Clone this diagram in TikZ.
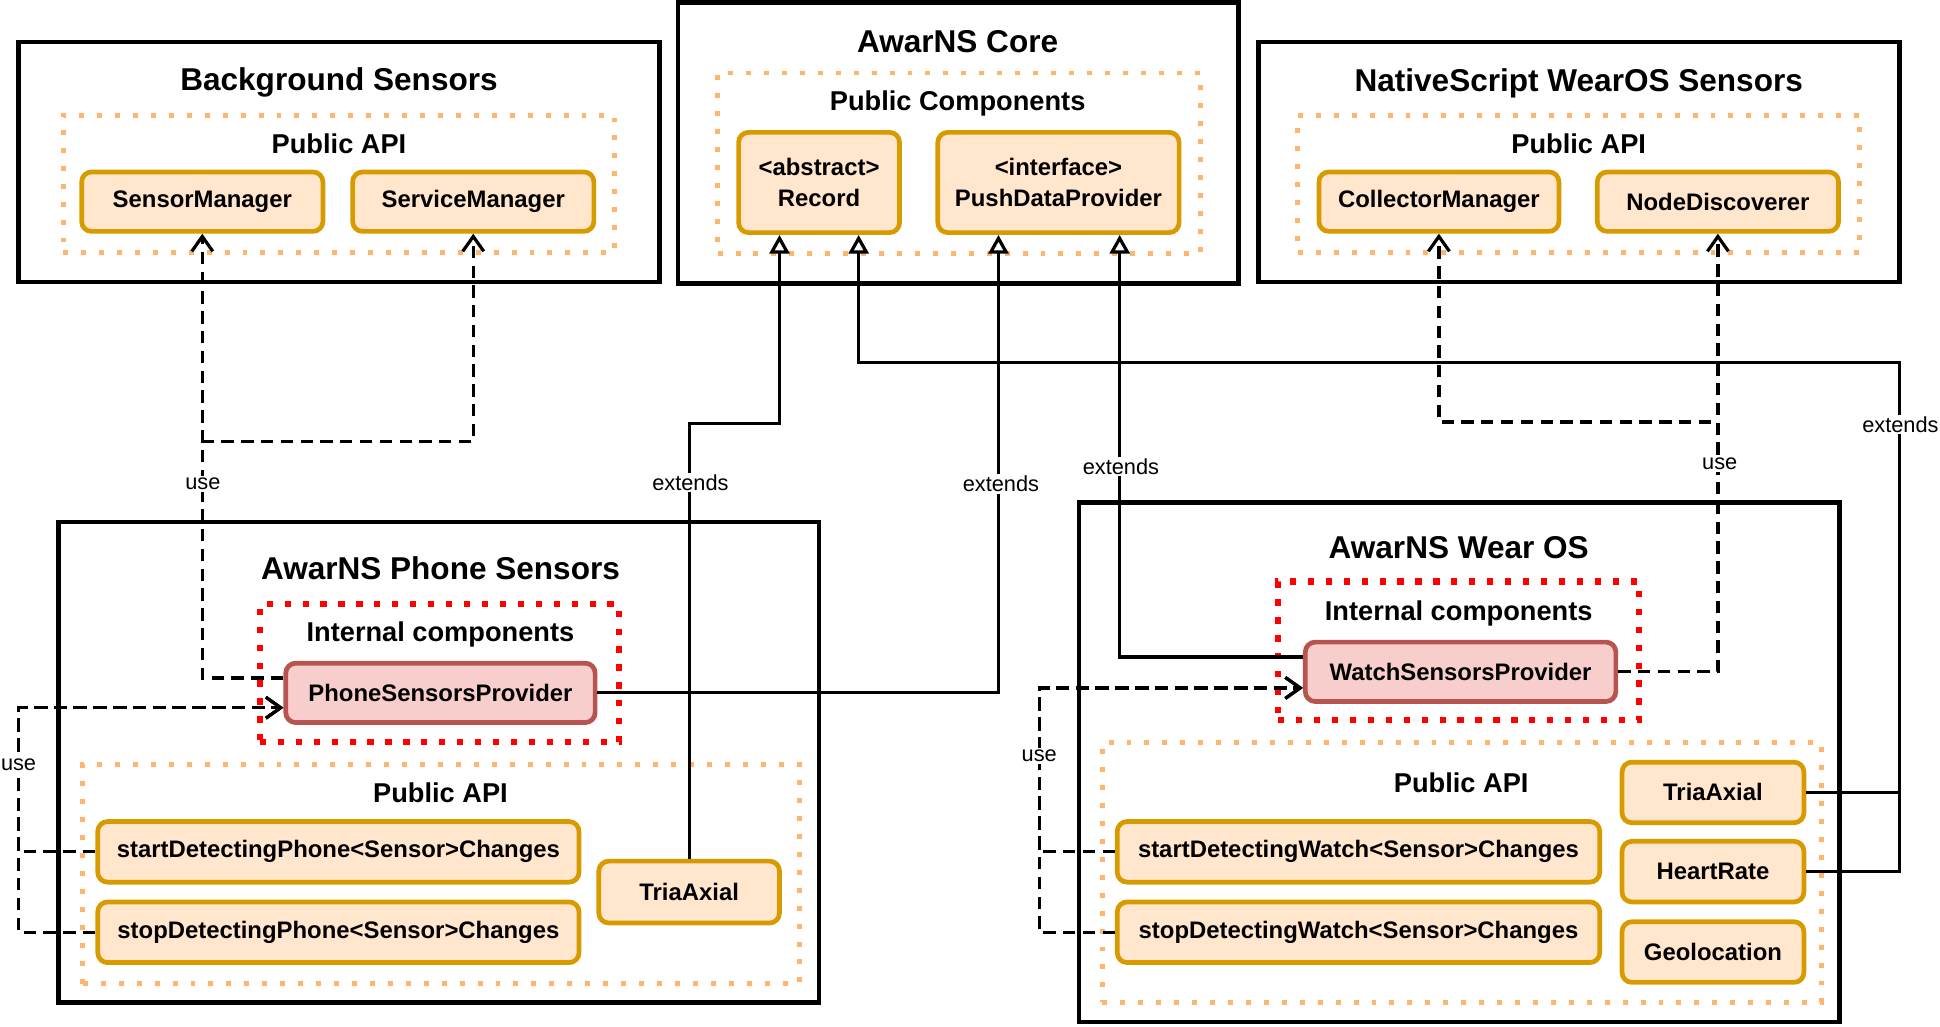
\documentclass[tikz,border=0pt]{standalone}
\usepackage{fontspec}
\setmainfont{Liberation Sans}
\usetikzlibrary{arrows.meta}
\definecolor{ofill}{HTML}{FFE6CC}
\definecolor{ostroke}{HTML}{D79B00}
\definecolor{rfill}{HTML}{F8CECC}
\definecolor{rstroke}{HTML}{B85450}
\definecolor{odot}{HTML}{FFB570}
\definecolor{rdot}{HTML}{FF0000}
\begin{document}
\begin{tikzpicture}[x=1pt,y=-1pt,
 container/.style={draw=black, line width=3.8pt, inner sep=0pt},
 dotbox/.style={draw=odot, line width=4pt, dash pattern=on 4pt off 10.5pt, inner sep=0pt},
 reddot/.style={draw=rdot, line width=5pt, dash pattern=on 5pt off 9.5pt, inner sep=0pt},
 obox/.style={draw=ostroke, fill=ofill, line width=3.8pt, rounded corners=8pt, inner sep=0pt,
   font=\fontsize{19.3}{25}\selectfont\bfseries, align=center},
 rbox/.style={obox, draw=rstroke, fill=rfill},
 ctitle/.style={font=\fontsize{25.5}{30}\selectfont\bfseries, inner sep=0pt},
 csub/.style={font=\fontsize{22}{26}\selectfont\bfseries, inner sep=0pt},
 elabel/.style={fill=white, font=\fontsize{17.6}{21}\selectfont, inner sep=1.5pt},
 conn/.style={line width=2.6pt},
 ext/.style={conn, -{Triangle[open, length=15pt, width=16pt, line width=2.6pt]}},
 usearrow/.style={conn, dash pattern=on 10pt off 6pt, -{Straight Barb[length=12pt, width=17pt, line width=2.6pt]}},
]
\useasboundingbox (0,0) rectangle (1568,829.3);

% containers
\node[container, minimum width=518pt, minimum height=194pt] (bg) at (274,131) {};
\node[container, minimum width=453pt, minimum height=227pt] (core) at (774.5,115.5) {};
\node[container, minimum width=518pt, minimum height=194pt] (ns) at (1276,131) {};
\node[container, minimum width=615pt, minimum height=388pt] (phone) at (354.5,616) {};
\node[container, minimum width=615pt, minimum height=420pt] (wear) at (1179.5,616) {};

% dotted groups
\node[dotbox, minimum width=446pt, minimum height=111pt] (bgapi) at (274,148.5) {};
\node[dotbox, minimum width=390pt, minimum height=146pt] (coreapi) at (775,132) {};
\node[dotbox, minimum width=454pt, minimum height=111pt] (nsapi) at (1276,148.5) {};
\node[reddot, minimum width=290pt, minimum height=112pt] (phint) at (355,544) {};
\node[dotbox, minimum width=579pt, minimum height=177pt] (phapi) at (356.5,706.5) {};
\node[reddot, minimum width=292pt, minimum height=112pt] (wint) at (1179,526) {};
\node[dotbox, minimum width=581pt, minimum height=210pt] (wapi) at (1181.5,705) {};

% titles
\node[ctitle] (t1) at (274,67) {Background Sensors};
\node[ctitle] (t2) at (774,34) {AwarNS Core};
\node[ctitle] (t3) at (1276,67) {NativeScript WearOS Sensors};
\node[ctitle] (t4) at (356,459) {AwarNS Phone Sensors};
\node[ctitle] (t5) at (1179,443) {AwarNS Wear OS};
\node[csub] (s1) at (274,116) {Public API};
\node[csub] (s2) at (774,84) {Public Components};
\node[csub] (s3) at (1276,116) {Public API};
\node[csub] (s4) at (356,513) {Internal components};
\node[csub] (s5) at (356,641) {Public API};
\node[csub] (s6) at (1179,496) {Internal components};
\node[csub] (s7) at (1181,633) {Public API};

% boxes
\node[obox, minimum width=195pt, minimum height=48pt] (sm) at (163.5,163) {SensorManager};
\node[obox, minimum width=195pt, minimum height=48pt] (svm) at (382.5,163) {ServiceManager};
\node[obox, minimum width=130pt, minimum height=81pt] (rec) at (662,147.5) {<abstract>\\Record};
\node[obox, minimum width=195pt, minimum height=81pt] (pdp) at (855.5,147.5) {<interface>\\PushDataProvider};
\node[obox, minimum width=194pt, minimum height=48pt] (cm) at (1163,163) {CollectorManager};
\node[obox, minimum width=195pt, minimum height=48pt] (nd) at (1388.5,163) {NodeDiscoverer};
\node[rbox, minimum width=250pt, minimum height=48pt] (psp) at (356,560) {PhoneSensorsProvider};
\node[obox, minimum width=389pt, minimum height=49pt] (sdp) at (273.5,688.5) {startDetectingPhone<Sensor>Changes};
\node[obox, minimum width=389pt, minimum height=49pt] (tdp) at (273.5,753.5) {stopDetectingPhone<Sensor>Changes};
\node[obox, minimum width=146pt, minimum height=50pt] (tap) at (557,721) {TriaAxial};
\node[rbox, minimum width=251pt, minimum height=48pt] (wsp) at (1180.5,543) {WatchSensorsProvider};
\node[obox, minimum width=390pt, minimum height=49pt] (sdw) at (1098,688.5) {startDetectingWatch<Sensor>Changes};
\node[obox, minimum width=390pt, minimum height=49pt] (tdw) at (1098,753.5) {stopDetectingWatch<Sensor>Changes};
\node[obox, minimum width=147pt, minimum height=49pt] (taw) at (1384.5,640.5) {TriaAxial};
\node[obox, minimum width=147pt, minimum height=49pt] (hr) at (1384.5,704.5) {HeartRate};
\node[obox, minimum width=147pt, minimum height=49pt] (geo) at (1384.5,769.5) {Geolocation};

% waypoints
\coordinate (u1) at (163.5,357);
\coordinate (e1) at (557,342);
\coordinate (e6) at (1535,293);
\coordinate (u7) at (1388.5,341);
\coordinate (u8) at (15,572);
\coordinate (u9) at (840,556);

% connectors
\draw[usearrow] ([yshift=12pt]psp.west) -| (sm.south);
\draw[usearrow] ([yshift=12pt]psp.west) -| (u1) -| (svm.south);
\draw[ext] (tap.north) -- (e1) -| ([xshift=-32pt]rec.south);
\draw[ext] (psp.east) -| ([xshift=-48.5pt]pdp.south);
\draw[ext] ([yshift=12pt]wsp.west) -| ([xshift=49.5pt]pdp.south);
\draw[ext] (taw.east) -| (e6) -| ([xshift=32pt]rec.south);
\draw[conn] (hr.east) -| (taw.east -| e6);
\draw[usearrow] (wsp.east) -| (nd.south);
\draw[usearrow] (wsp.east) -| (u7) -| (cm.south);
\draw[usearrow] (sdp.west) -| (u8) -- ([yshift=-12pt]psp.west);
\draw[usearrow] (tdp.west) -| (u8) -- ([yshift=-12pt]psp.west);
\draw[usearrow] (sdw.west) -| (u9) -- ([yshift=-13pt]wsp.west);
\draw[usearrow] (tdw.west) -| (u9) -- ([yshift=-13pt]wsp.west);

% labels
\node[elabel] (l1) at (164,391) {use};
\node[elabel] (l2) at (558,390) {extends};
\node[elabel] (l3) at (809,391) {extends};
\node[elabel] (l4) at (906,377) {extends};
\node[elabel] (l5) at (1390,375) {use};
\node[elabel] (l6) at (1536,343) {extends};
\node[elabel] (l7) at (15,618) {use};
\node[elabel] (l8) at (840,611) {use};
\end{tikzpicture}
\end{document}
